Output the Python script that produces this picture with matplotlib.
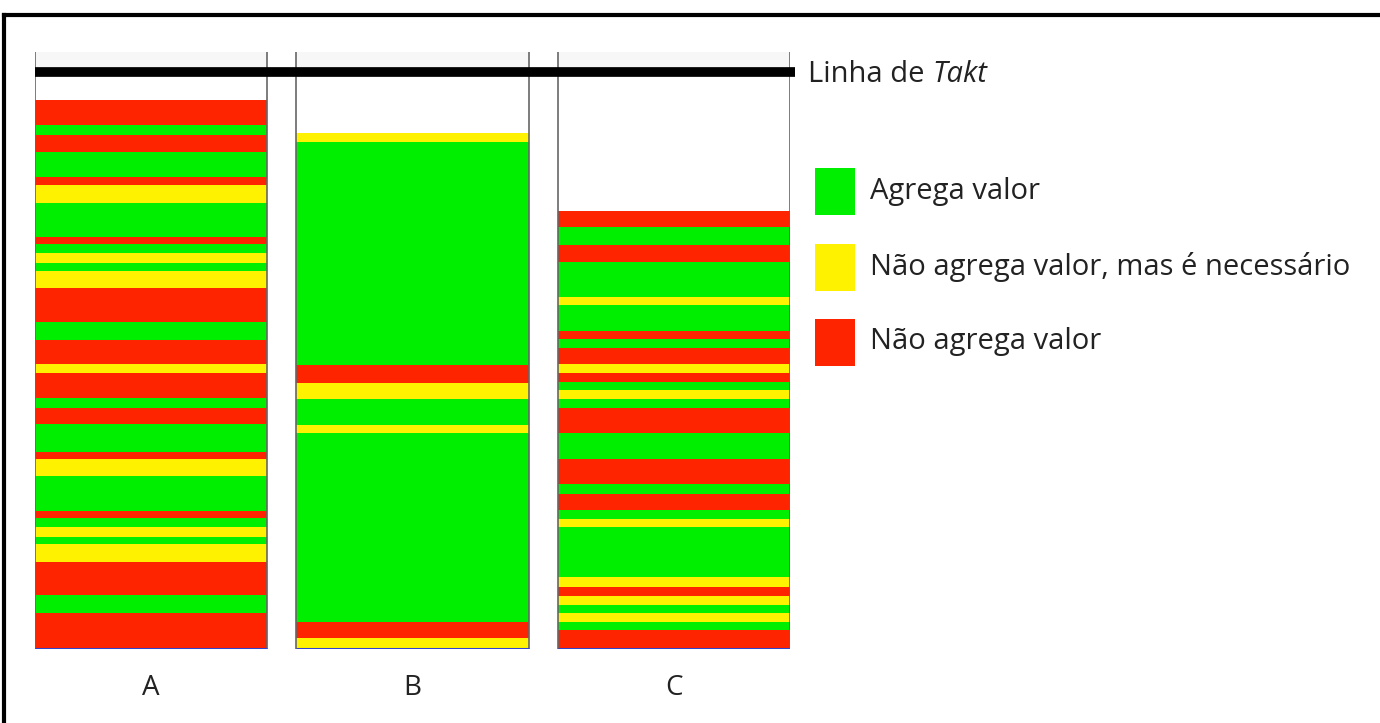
import matplotlib
matplotlib.use("Agg")
import matplotlib.pyplot as plt
from matplotlib.lines import Line2D
from matplotlib.patches import Rectangle

# ---- data (segments listed top -> bottom, heights in arbitrary time units) ----
categories = ["A", "B", "C"]
A_heights = [25, 10, 17, 25, 8, 18, 34, 7, 9, 10, 8, 17, 34, 18, 24, 9, 25, 10, 16, 28,
             7, 17, 35, 7, 9, 10, 7, 18, 33, 18, 36]
A_types = ["R", "G", "R", "G", "R", "Y", "G", "R", "G", "Y", "G", "Y", "R", "G", "R", "Y",
           "R", "G", "R", "G", "R", "Y", "G", "R", "G", "Y", "G", "Y", "R", "G", "R"]
B_heights = [9, 223, 18, 16, 26, 8, 189, 16, 11]
B_types = ["Y", "G", "R", "Y", "G", "Y", "G", "R", "Y"]
C_heights = [16, 18, 17, 35, 8, 26, 8, 9, 16, 9, 9, 8, 9, 9, 25, 26, 25, 10, 16, 9, 8,
             50, 10, 9, 9, 8, 9, 8, 19]
C_types = ["R", "G", "R", "G", "Y", "G", "R", "G", "R", "Y", "R", "G", "Y", "G", "R", "G",
           "R", "G", "R", "G", "Y", "G", "Y", "R", "Y", "G", "Y", "G", "R"]
takt_value = 577
frame_top = 597
legend_labels = ["Agrega valor", "Não agrega valor, mas é necessário", "Não agrega valor"]
legend_types = ["G", "Y", "R"]

colors = {"G": "#00EE00", "Y": "#FFF200", "R": "#FF2400"}

W, H = 1380, 723
fig = plt.figure(figsize=(W / 100, H / 100), dpi=100)
fig.patch.set_facecolor("white")

# axes placed so bars occupy x 35..790 px, y 52..649 px
ax = fig.add_axes([35 / W, (H - 649) / H, (790 - 35) / W, (649 - 52) / H])
bar_w = 232 / 261
ax.set_xlim(-bar_w / 2, 2 + bar_w / 2)
ax.set_ylim(0, frame_top)
ax.axis("off")

all_h = [A_heights, B_heights, C_heights]
all_t = [A_types, B_types, C_types]
for i, (hs, ts) in enumerate(zip(all_h, all_t)):
    # faint shading above the takt line
    ax.bar(i, frame_top - takt_value, width=bar_w, bottom=takt_value, color="#F7F7F7",
           edgecolor="none", zorder=1)
    bottom = 0
    for h, t in zip(reversed(hs), reversed(ts)):
        ax.bar(i, h, width=bar_w, bottom=bottom, color=colors[t], edgecolor="none",
               linewidth=0, zorder=2)
        bottom += h
    # side lines
    ax.vlines([i - bar_w / 2, i + bar_w / 2], 0, frame_top, colors="#666666",
              linewidth=1.2, zorder=3)
    # blue base line
    ax.hlines(0, i - bar_w / 2, i + bar_w / 2, colors="#3344CC", linewidth=2.2, zorder=4)
    ax.text(i, -39, categories[i], ha="center", va="center", fontsize=20,
            family="Open Sans", color="#222222", clip_on=False)

# takt line
ax.plot([-bar_w / 2, 2 + bar_w / 2 + 0.02], [takt_value, takt_value], color="black",
        linewidth=7, solid_capstyle="butt", zorder=5, clip_on=False)

# outer border (top and left)
fig.add_artist(Line2D([4 / W, 1], [1 - 15 / H, 1 - 15 / H], color="black", linewidth=3,
                      transform=fig.transFigure))
fig.add_artist(Line2D([4 / W, 4 / W], [0, 1 - 15 / H], color="black", linewidth=3,
                      transform=fig.transFigure))

# takt label
fs = 21
t1 = fig.text(808 / W, 1 - 75 / H, "Linha de ", ha="left", va="center", fontsize=fs,
              family="Open Sans", color="#222222")
fig.canvas.draw()
bb = t1.get_window_extent()
fig.text(bb.x1 / W, 1 - 75 / H, "Takt", ha="left", va="center", fontsize=fs,
         family="Open Sans", style="italic", color="#222222")

# legend
leg_y = [191, 267, 342]
for lab, t, y in zip(legend_labels, legend_types, leg_y):
    fig.add_artist(Rectangle((815 / W, 1 - (y + 24) / H), 40 / W, 47 / H,
                             facecolor=colors[t], edgecolor="none",
                             transform=fig.transFigure))
    fig.text(870 / W, 1 - y / H, lab, ha="left", va="center", fontsize=fs,
             family="Open Sans", color="#222222")

fig.savefig("out.png", dpi=100)
